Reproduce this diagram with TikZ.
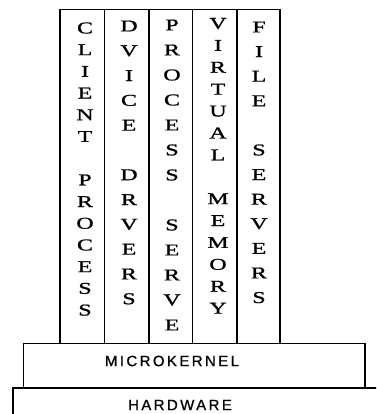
\documentclass[tikz,border=0pt]{standalone}
\usepackage{fontspec}
\usepackage{graphicx}
\newfontfamily\colfont[FakeBold=1]{Liberation Serif}
\newfontfamily\kfont[LetterSpace=16,FakeBold=0.8]{Liberation Sans}
\newcommand\wideletter[1]{\scalebox{1.45}[1]{#1}}
\begin{document}
\begin{tikzpicture}[x=1pt,y=-1pt,
  box/.style={draw=black,line width=1.4pt},
  letter/.style={inner sep=0pt,font=\colfont\fontsize{16.5}{16.5}\selectfont},
  klabel/.style={inner sep=0pt,font=\kfont\fontsize{15}{15}\selectfont}]
\useasboundingbox (0,0) rectangle (376,414);
\begin{scope}
\clip (0,0) rectangle (376,414);
\draw[box] (13,388) rectangle (390,430);
\end{scope}
\draw[box] (23.5,343.5) rectangle (365,388);
\foreach \xa/\xb [count=\k] in {60/104.5,104.5/149,149/192.5,192.5/237,237/280}
  \draw[box] (\xa,9.5) rectangle (\xb,343.5);
% column 1
\foreach \l [count=\i] in {C,L,I,E,N,T,{},P,R,O,C,E,S,S}
  \node[letter] (ca\i) at (85,{28+(\i-1)*21.7}) {\wideletter{\l}};
% column 2
\foreach \l [count=\i] in {D,V,I,C,E,{},D,R,V,E,R,S}
  \node[letter] (cb\i) at (129,{26+(\i-1)*24.8}) {\wideletter{\l}};
% column 3
\foreach \l [count=\i] in {P,R,O,C,E,S,S,{},S,E,R,V,E}
  \node[letter] (cc\i) at (172,{25+(\i-1)*25}) {\wideletter{\l}};
% column 4
\foreach \l [count=\i] in {V,I,R,T,U,A,L,{},M,E,M,O,R,Y}
  \node[letter] (cd\i) at (218,{23.5+(\i-1)*21.9}) {\wideletter{\l}};
% column 5
\foreach \l [count=\i] in {F,I,L,E,{},S,E,R,V,E,R,S}
  \node[letter] (ce\i) at (259,{27+(\i-1)*24.6}) {\wideletter{\l}};
\node[klabel] (mk) at (172,361) {MICROKERNEL};
\node[klabel] (hw) at (180,405) {HARDWARE};
\end{tikzpicture}
\end{document}
